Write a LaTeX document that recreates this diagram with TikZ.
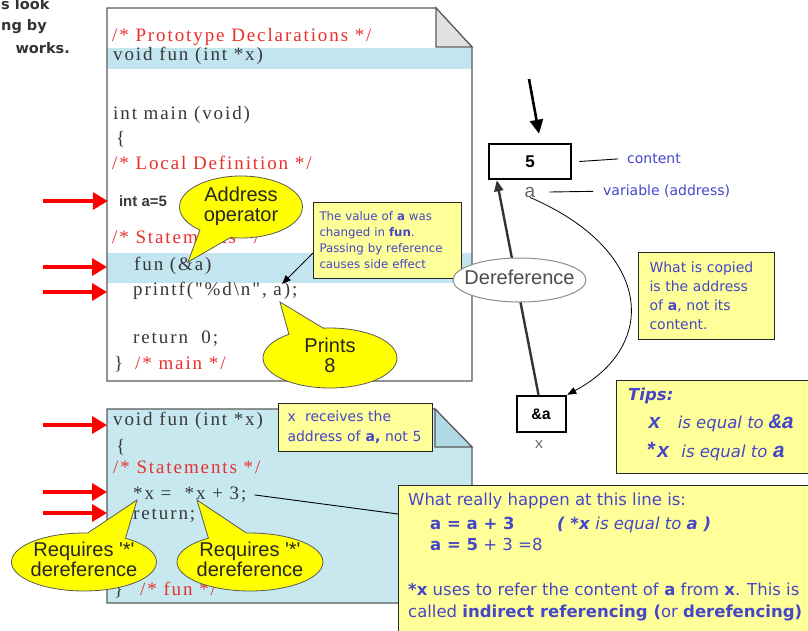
\documentclass[tikz,border=0pt]{standalone}
\usepackage{fontspec}
\setmainfont{DejaVu Sans}
\newfontfamily\codefont[LetterSpace=10]{Liberation Serif}
\newfontfamily\arialfont{Liberation Sans}
\newfontfamily\courfont{Liberation Mono}
\usetikzlibrary{arrows.meta,shapes.geometric,shapes.callouts,calc}

\newcommand{\pxsize}[2]{\fontsize{#1}{#2}\selectfont}
% zero-width stack of centred lines, so the shape keeps its own size
\newcommand{\tightlines}[1]{\makebox[0pt]{\begin{tabular}{@{}c@{}}#1\end{tabular}}}
\newcommand{\tipcodefont}{\courfont\bfseries\itshape\pxsize{21}{21}}

\definecolor{codegray}{HTML}{383838}
\definecolor{comred}{HTML}{E8302C}
\definecolor{bandblue}{HTML}{C2E5EF}
\definecolor{docblue}{HTML}{C8E8F0}
\definecolor{foldblue}{HTML}{B2DAE5}
\definecolor{foldgray}{HTML}{E2E2E2}
\definecolor{notefill}{HTML}{FFFF99}
\definecolor{noteblue}{HTML}{4646C8}
\definecolor{bubble}{HTML}{FFFF00}
\definecolor{edgegray}{HTML}{5A5A5A}

\begin{document}
\begin{tikzpicture}[x=1pt,y=-1pt,
  heading/.style={inner sep=0, font=\bfseries\pxsize{14.5}{18}, text=black!80},
  code/.style={anchor=mid west, inner sep=0, text=codegray, font=\codefont\pxsize{19}{21}},
  comment/.style={code, text=comred},
  docedge/.style={draw=edgegray, line width=1.2},
  redarrow/.style={draw=red, line width=3.5, -{Triangle[length=15pt,width=17pt]}},
  thinarrow/.style={draw=black, line width=0.9, -{Triangle[length=9pt,width=7pt]}},
  note/.style={draw=black!85, fill=notefill, line width=1, text=noteblue},
  bubble/.style={ellipse callout, fill=bubble, draw=edgegray, line width=0.8, inner sep=0,
    font=\arialfont\pxsize{20}{20}, text=black!85, callout pointer arc=32},
  cellbox/.style={draw=black, line width=2.5, inner sep=0, fill=white},
  grey label/.style={inner sep=0, text=black!60},
  blue label/.style={anchor=mid west, inner sep=0, text=noteblue, font=\pxsize{14}{16}},
  bigtext/.style={anchor=mid west, inner sep=0, text=noteblue, font=\pxsize{16.5}{20}},
  tiptext/.style={anchor=mid west, inner sep=0, text=noteblue, font=\pxsize{16.5}{20}}
]
\useasboundingbox (0,0) rectangle (808,630);
\fill[white] (0,0) rectangle (808,630);

% heading in the top left corner
\node[heading, anchor=mid west] (hd1) at (1,7) {s look};
\node[heading, anchor=mid west] (hd2) at (1,28) {ng by};
\node[heading, anchor=mid east] (hd3) at (70,51) {works.};

% ---------------- sheet with main() ----------------
\fill[white] (107,8) -- (436,8) -- (472,47) -- (472,381) -- (107,381) -- cycle;
\fill[bandblue] (107,48) rectangle (472,69);
\fill[bandblue] (107,253) rectangle (472,283);
\draw[docedge] (107,8) -- (436,8) -- (472,47) -- (472,381) -- (107,381) -- cycle;
\filldraw[docedge, fill=foldgray] (436,8) -- (436,47) -- (472,47) -- cycle;
\coordinate (mainTL) at (107,8);

\node[comment] (c1) at (112,39) {/* Prototype Declarations */};
\node[code] (c2) at (113,58) {void fun (int *x)};
\node[code] (c3) at (113,117) {int main (void)};
\node[code] (c4) at (116,142) {\{};
\node[comment] (c5) at (112,167) {/* Local Definition */};
\node[fill=white, inner sep=0, minimum width=70, minimum height=32, text=codegray,
      font=\arialfont\bfseries\pxsize{15}{17}] (inta) at (143,201) {int a=5};
\node[comment] (c6) at (112,241) {/* Statements */};
\node[code] (c7) at (134,268) {fun (\&a)};
\node[code] (c8) at (133,293) {printf("\%d\textbackslash n", a);};
\node[code] (c9) at (133,341) {return~~0;};
\node[code] (c10) at (114,367) {\}};
\node[comment] (c10b) at (135,367) {/* main */};

\coordinate (ra1) at (43,201);
\coordinate (ra2) at (43,267);
\coordinate (ra3) at (43,292);
\draw[redarrow] (ra1) -- (inta.west);
\draw[redarrow] (ra2) -- (ra2 -| mainTL);
\draw[redarrow] (ra3) -- (ra3 -| mainTL);

% ---------------- sheet with fun() ----------------
\filldraw[docedge, fill=docblue] (107,409) -- (435,409) -- (472,447) -- (472,603) -- (107,603) -- cycle;
\filldraw[docedge, fill=foldblue] (435,409) -- (435,447) -- (472,447) -- cycle;
\coordinate (funTL) at (107,409);

\node[code] (d1) at (113,423) {void fun (int *x)};
\node[code] (d2) at (116,450) {\{};
\node[comment] (d3) at (113,471) {/* Statements */};
\node[code] (d4) at (133,497) {*x =~~*x + 3;};
\node[code] (d5) at (133,517) {return;};
\node[code] (d6) at (114,593) {\}};
\node[comment] (d6b) at (140,593) {/* fun */};

\coordinate (ra4) at (43,425);
\coordinate (ra5) at (43,492);
\coordinate (ra6) at (43,513);
\draw[redarrow] (ra4) -- (ra4 -| funTL);
\draw[redarrow] (ra5) -- (ra5 -| funTL);
\draw[redarrow] (ra6) -- (ra6 -| funTL);

% ---------------- yellow notes on the sheets ----------------
\node[note, anchor=north west, minimum width=148, minimum height=76, inner xsep=6, inner ysep=0,
      text width=136, align=left, font=\pxsize{11.8}{16}] (valnote) at (313,202)
  {The value of \textbf{a} was\\changed in \textbf{fun}.\\Passing by reference\\causes side effect};
\coordinate (printa) at (282,284);
\draw[thinarrow] ($(valnote.south west)+(0,-26)$) -- (printa);

\node[note, anchor=north west, minimum width=154, minimum height=48, inner xsep=9, inner ysep=0,
      text width=136, align=left, font=\pxsize{14}{20}] (xnote) at (278,403)
  {x~~receives the\\address of \textbf{a,} not 5};

% ---------------- speech bubbles ----------------
\node[bubble, minimum width=123, minimum height=62, callout absolute pointer={(188,262)}]
  (addr) at (241,207) {\tightlines{Address\\operator}};
\node[bubble, minimum width=134, minimum height=60, callout absolute pointer={(280,302)}]
  (prints) at (330,358) {\tightlines{Prints\\8}};
\node[bubble, minimum width=145, minimum height=50, callout absolute pointer={(137,500)}]
  (req1) at (84,562) {\tightlines{Requires '*'\\dereference}};
\node[bubble, minimum width=146, minimum height=50, callout absolute pointer={(197,500)}]
  (req2) at (250,562) {\tightlines{Requires '*'\\dereference}};

% ---------------- memory cells ----------------
\node[cellbox, minimum width=82, minimum height=35, font=\arialfont\bfseries\pxsize{17}{17}]
  (cella) at (530,161.5) {5};
\node[grey label, font=\arialfont\pxsize{19}{19}] (lbla) at (530,192) {a};
\node[blue label] (lblcontent) at (627,161) {content};
\node[blue label] (lblvar) at (603,193) {variable (address)};
\draw[line width=0.9] ([xshift=7]cella.east) -- ([xshift=-9]lblcontent.west);
\draw[line width=0.9] ([xshift=14]lbla.east) -- ([xshift=-10]lblvar.west);

\coordinate (topin) at (529,79);
\draw[line width=2.6, -{Triangle[length=14pt,width=13pt]}] (topin) -- ($(cella.north)+(9,-9)$);

\node[cellbox, minimum width=49, minimum height=36, font=\courfont\bfseries\pxsize{16}{16}]
  (cellx) at (541.5,414) {\&a};
\node[grey label, font=\courfont\pxsize{15}{15}] (lblx) at (539,445) {x};

\draw[line width=2.4, draw=black!80, -{Triangle[length=11pt,width=9pt]}]
  ([xshift=-3]cellx.north) -- ($(cella.south west)+(9,0)$);
\node[ellipse, draw=black!45, fill=white, line width=1, minimum width=133, minimum height=44,
      inner sep=0, text=black!70, font=\arialfont\pxsize{20}{20}] (deref) at (519.5,280)
  {\tightlines{Dereference}};

\draw[thinarrow, line width=0.8] (lbla.south) .. controls (652,250) and (660,345) .. (cellx.north east);

\node[note, anchor=north west, minimum width=136, minimum height=87, inner xsep=11, inner ysep=0,
      text width=114, align=left, font=\pxsize{14}{19}] (copynote) at (638,252)
  {What is copied\\is the address\\of \textbf{a}, not its\\content.};

% ---------------- tips ----------------
\node[note, anchor=north west, minimum width=220, minimum height=93, inner sep=0] (tipsbox) at (616,380) {};
\node[tiptext] (tips1) at (628,398) {\bfseries\itshape Tips:};
\node[tiptext] (tips2) at (648,426) {{\tipcodefont x}\hspace{17pt}{\itshape is equal to }{\tipcodefont\&a}};
\node[tiptext] (tips3) at (644,455) {{\tipcodefont *x}\hspace{12pt}{\itshape is equal to }{\tipcodefont a}};

% ---------------- explanation of *x = *x + 3 ----------------
\node[note, anchor=north west, minimum width=430, minimum height=160, inner sep=0] (bigbox) at (398,485) {};
\draw[line width=0.9] ([xshift=8]d4.east) -- ($(bigbox.north west)+(0,29)$);
\node[bigtext] (b1) at (408,503) {What really happen at this line is:};
\node[bigtext] (b2) at (430,527) {\textbf{a = a + 3}};
\node[bigtext] (b2b) at (557,527) {\textbf{\itshape( *x} {\itshape is equal to} \textbf{\itshape a )}};
\node[bigtext] (b3) at (430,548) {\textbf{a = 5} + 3 =8};
\node[bigtext] (b4) at (408,593) {\textbf{*x} uses to refer the content of \textbf{a} from \textbf{x}. This is};
\node[bigtext] (b5) at (408,615) {called \textbf{indirect referencing (}or \textbf{derefencing)}};
\end{tikzpicture}
\end{document}
